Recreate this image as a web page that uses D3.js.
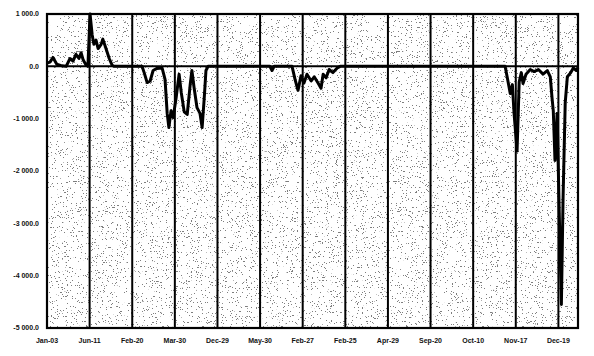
<!DOCTYPE html>
<meta charset="utf-8">
<style>
body{
  margin: 0;
  background: white;
  font-family: "Liberation Sans", Arial, sans-serif;
}
svg text{
  font-weight: bold;
  font-size: 7px;
  fill: #111;
}
</style>
<div id='chart'></div>
<script src="https://cdn.jsdelivr.net/npm/d3@7"></script>
<script>
// x labels, one per vertical grid line (time in grid units)
var xLabels = ['Jan-03', 'Jun-11', 'Feb-20', 'Mar-30', 'Dec-29', 'May-30', 'Feb-27',
               'Feb-25', 'Apr-29', 'Sep-20', 'Oct-10', 'Nov-17', 'Dec-19']
var yTicks = [1000, 0, -1000, -2000, -3000, -4000, -5000]

// series: t = position in grid units, v = value
var t = [0, 0.07, 0.14, 0.23, 0.35, 0.45, 0.54, 0.61, 0.68, 0.75, 0.80, 0.85, 0.92, 0.96,
  1.01, 1.06, 1.10, 1.15, 1.20, 1.27, 1.31, 1.38, 1.46, 1.53, 1.57,
  2.23, 2.28, 2.35, 2.42, 2.49, 2.58, 2.70, 2.77, 2.82, 2.86, 2.91, 2.96, 3.03, 3.10,
  3.15, 3.22, 3.29, 3.36, 3.40, 3.45, 3.52, 3.59, 3.64, 3.69, 3.73, 3.78,
  5.23, 5.28, 5.33,
  5.75, 5.82, 5.89, 5.96, 6.03, 6.10, 6.20, 6.27, 6.36, 6.43, 6.48, 6.55, 6.62, 6.71, 6.81, 6.88,
  10.75, 10.82, 10.87, 10.92, 10.96, 11.03, 11.08, 11.13, 11.17, 11.24, 11.34, 11.43, 11.53,
  11.64, 11.74, 11.81, 11.85, 11.88, 11.92, 11.97, 12.02, 12.07, 12.11, 12.16, 12.21, 12.28,
  12.35, 12.42, 12.46]
var v = [60, 80, 170, 40, 10, 0, 150, 100, 230, 150, 260, 120, 20, 0,
  1000, 600, 420, 500, 340, 420, 520, 350, 150, 20, 0,
  0, -120, -310, -280, -80, -40, -30, -250, -900, -1170, -850, -980, -600, -150,
  -500, -870, -920, -350, -80, -400, -790, -900, -1170, -600, -80, 0,
  0, -80, 0,
  0, -250, -460, -180, -320, -150, -280, -200, -320, -420, -150, -220, -60, -120, -30, 0,
  0, -300, -520, -350, -900, -1620, -300, -120, -330, -150, -60, -100, -60,
  -150, -80, -200, -600, -850, -1800, -900, -2800, -4550, -2500, -700, -200, -130,
  -30, -80, -20]

var width = 594, height = 356
var margin = {top: 14, right: 16, bottom: 28, left: 47}

var svg = d3.select('#chart').append('svg')
    .attr('width', width)
    .attr('height', height)

var x = d3.scaleLinear().domain([0, 12.46]).range([margin.left, width - margin.right])
var y = d3.scaleLinear().domain([-5000, 1000]).range([height - margin.bottom, margin.top])

var loc = d3.formatLocale({decimal: '.', thousands: ' ', grouping: [3], currency: ['', ''], minus: '-'})
var fmt = loc.format(',.1f')

// scan speckle, kept sparse
var defs = svg.append('defs')
var f = defs.append('filter').attr('id', 'speckle')
    .attr('x', 0).attr('y', 0).attr('width', 1).attr('height', 1)
f.append('feTurbulence').attr('type', 'fractalNoise')
    .attr('baseFrequency', 0.8).attr('numOctaves', 2).attr('seed', 7)
f.append('feColorMatrix').attr('type', 'matrix')
    .attr('values', '0 0 0 0 0  0 0 0 0 0  0 0 0 0 0  -50 0 0 0 16.5')
f.append('feComposite').attr('in2', 'SourceGraphic').attr('operator', 'in')

svg.append('rect')
    .attr('x', x(0)).attr('y', y(1000))
    .attr('width', x(12.46) - x(0)).attr('height', y(-5000) - y(1000))
    .attr('fill', 'black')
    .attr('filter', 'url(#speckle)')
    .attr('opacity', 0.5)

// vertical grid lines
svg.append('g').selectAll('line')
  .data(d3.range(1, xLabels.length))
  .join('line')
    .attr('x1', d => x(d)).attr('x2', d => x(d))
    .attr('y1', y(1000)).attr('y2', y(-5000))
    .attr('stroke', '#000').attr('stroke-width', 2)

// zero line
svg.append('line')
    .attr('x1', x(0)).attr('x2', x(12.46))
    .attr('y1', y(0)).attr('y2', y(0))
    .attr('stroke', '#000').attr('stroke-width', 2)

// series
var pts = t.map((d, i) => [d, v[i]])
svg.append('path')
    .datum(pts)
    .attr('fill', 'none')
    .attr('stroke', '#000')
    .attr('stroke-width', 3)
    .attr('stroke-linejoin', 'round')
    .attr('d', d3.line().x(d => x(d[0])).y(d => y(d[1])))

// frame
svg.append('rect')
    .attr('x', x(0)).attr('y', y(1000))
    .attr('width', x(12.46) - x(0)).attr('height', y(-5000) - y(1000))
    .attr('fill', 'none').attr('stroke', '#000').attr('stroke-width', 2.2)

// y labels
svg.append('g').selectAll('text')
  .data(yTicks)
  .join('text')
    .attr('x', 39)
    .attr('y', d => y(d))
    .attr('dy', '0.35em')
    .attr('text-anchor', 'end')
    .text(d => fmt(d))

// x labels
svg.append('g').selectAll('text')
  .data(xLabels)
  .join('text')
    .attr('x', (d, i) => x(i))
    .attr('y', 343)
    .attr('text-anchor', 'middle')
    .text(d => d)
</script>
